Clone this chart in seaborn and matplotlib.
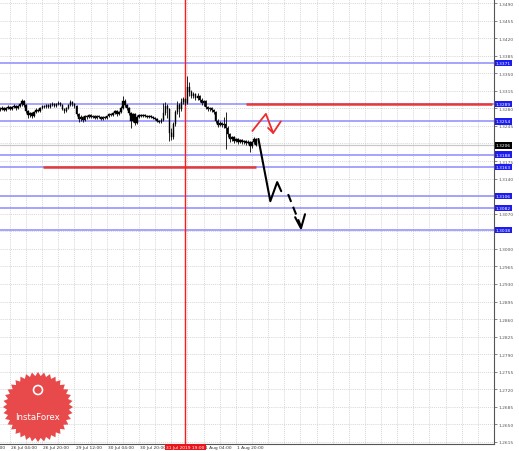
import numpy as np
import pandas as pd
import matplotlib
matplotlib.use("Agg")
import matplotlib.pyplot as plt
import seaborn as sns
from matplotlib.patches import Polygon, Circle

# --- DATA (hourly candles, index 0 = 25 Jul 23:00) ---
close = [1.3279, 1.3281, 1.3277, 1.3280, 1.3283, 1.3279, 1.3282, 1.3285, 1.3280, 1.3284,
         1.3288, 1.3294, 1.3286, 1.3275, 1.3266, 1.3270, 1.3264, 1.3272, 1.3277, 1.3275,
         1.3280, 1.3284, 1.3282, 1.3286, 1.3283, 1.3287, 1.3289, 1.3285, 1.3288, 1.3291,
         1.3286, 1.3279, 1.3274, 1.3280, 1.3287, 1.3292, 1.3288, 1.3284, 1.3268, 1.3258,
         1.3262, 1.3256, 1.3264, 1.3262, 1.3266, 1.3263, 1.3265, 1.3261, 1.3264, 1.3262,
         1.3259, 1.3263, 1.3260, 1.3264, 1.3268, 1.3266, 1.3270, 1.3274, 1.3268, 1.3272,
         1.3280, 1.3295, 1.3286, 1.3280, 1.3270, 1.3255, 1.3268, 1.3250, 1.3263, 1.3266,
         1.3264, 1.3267, 1.3265, 1.3263, 1.3265, 1.3262, 1.3260, 1.3258, 1.3255, 1.3252,
         1.3256, 1.3270, 1.3284, 1.3278, 1.3230, 1.3222, 1.3248, 1.3272, 1.3286, 1.3278,
         1.3292, 1.3298, 1.3290, 1.3322, 1.3312, 1.3305, 1.3308, 1.3300, 1.3304, 1.3297,
         1.3290, 1.3294, 1.3283, 1.3278, 1.3280, 1.3276, 1.3272, 1.3255, 1.3247, 1.3250,
         1.3246, 1.3249, 1.3240, 1.3228, 1.3218, 1.3222, 1.3215, 1.3218, 1.3213, 1.3216,
         1.3212, 1.3214, 1.3211, 1.3213, 1.3205, 1.3212, 1.3218, 1.3206]
high = [1.3282, 1.3284, 1.3283, 1.3282, 1.3286, 1.3285, 1.3284, 1.3288, 1.3287, 1.3286,
        1.3291, 1.3298, 1.3296, 1.3288, 1.3277, 1.3273, 1.3272, 1.3275, 1.3280, 1.3279,
        1.3282, 1.3286, 1.3287, 1.3288, 1.3289, 1.3290, 1.3292, 1.3291, 1.3290, 1.3294,
        1.3293, 1.3288, 1.3281, 1.3282, 1.3289, 1.3296, 1.3294, 1.3291, 1.3286, 1.3270,
        1.3266, 1.3264, 1.3267, 1.3266, 1.3268, 1.3268, 1.3267, 1.3267, 1.3266, 1.3266,
        1.3264, 1.3265, 1.3265, 1.3266, 1.3270, 1.3271, 1.3273, 1.3277, 1.3276, 1.3275,
        1.3284, 1.3305, 1.3299, 1.3289, 1.3283, 1.3272, 1.3271, 1.3270, 1.3266, 1.3269,
        1.3268, 1.3269, 1.3269, 1.3267, 1.3267, 1.3267, 1.3264, 1.3262, 1.3260, 1.3257,
        1.3260, 1.3290, 1.3292, 1.3288, 1.3280, 1.3240, 1.3252, 1.3276, 1.3294, 1.3290,
        1.3300, 1.3303, 1.3301, 1.3345, 1.3333, 1.3316, 1.3312, 1.3310, 1.3311, 1.3307,
        1.3300, 1.3297, 1.3296, 1.3285, 1.3283, 1.3282, 1.3278, 1.3274, 1.3258, 1.3254,
        1.3252, 1.3262, 1.3272, 1.3245, 1.3230, 1.3225, 1.3224, 1.3221, 1.3220, 1.3219,
        1.3218, 1.3217, 1.3216, 1.3216, 1.3215, 1.3215, 1.3222, 1.3220]
low = [1.3275, 1.3277, 1.3274, 1.3275, 1.3278, 1.3276, 1.3277, 1.3280, 1.3277, 1.3278,
       1.3282, 1.3285, 1.3283, 1.3271, 1.3261, 1.3263, 1.3260, 1.3262, 1.3270, 1.3272,
       1.3273, 1.3278, 1.3280, 1.3280, 1.3281, 1.3281, 1.3284, 1.3283, 1.3283, 1.3286,
       1.3284, 1.3276, 1.3271, 1.3272, 1.3278, 1.3285, 1.3285, 1.3281, 1.3264, 1.3252,
       1.3255, 1.3253, 1.3254, 1.3259, 1.3260, 1.3261, 1.3261, 1.3259, 1.3259, 1.3260,
       1.3257, 1.3257, 1.3258, 1.3258, 1.3262, 1.3264, 1.3264, 1.3268, 1.3265, 1.3266,
       1.3270, 1.3278, 1.3282, 1.3276, 1.3266, 1.3240, 1.3252, 1.3246, 1.3248, 1.3261,
       1.3262, 1.3262, 1.3263, 1.3261, 1.3261, 1.3260, 1.3258, 1.3256, 1.3253, 1.3250,
       1.3250, 1.3254, 1.3266, 1.3260, 1.3214, 1.3216, 1.3218, 1.3244, 1.3268, 1.3262,
       1.3274, 1.3288, 1.3286, 1.3288, 1.3305, 1.3300, 1.3300, 1.3296, 1.3297, 1.3292,
       1.3286, 1.3285, 1.3279, 1.3274, 1.3275, 1.3272, 1.3268, 1.3250, 1.3243, 1.3244,
       1.3242, 1.3240, 1.3200, 1.3222, 1.3213, 1.3214, 1.3211, 1.3212, 1.3209, 1.3210,
       1.3208, 1.3209, 1.3206, 1.3208, 1.3193, 1.3202, 1.3209, 1.3204]
first_open = 1.3277

# analyst levels
blue_levels = [1.3371, 1.3289, 1.3254, 1.3188, 1.3163, 1.3106, 1.3082, 1.3038]
current_price = 1.3206
red_upper = (1.3289, 122.2, 244.0)      # level, start index, end index
red_lower = (1.3163, 21.3, 127.2)

# forecast drawings (index, price)
red_path_x = [125.2, 131.9, 135.5]
red_path_y = [1.3235, 1.3269, 1.3231]
red_head_x = [133.0, 135.5, 139.3]
red_head_y = [1.3241, 1.3231, 1.3254]
black_path_x = [128.2, 134.1, 137.5, 139.5]
black_path_y = [1.3219, 1.3095, 1.3133, 1.3115]
black_dash_x = [142.9, 149.3]
black_dash_y = [1.3109, 1.3044]
black_head_x = [146.4, 149.3, 151.3]
black_head_y = [1.3063, 1.3041, 1.3069]

# axis
y_ticks = [round(1.2615 + 0.0035 * k, 4) for k in range(26)]
x_tick_pos = [-11, 5, 21, 37, 53, 69, 101, 117]
x_tick_labels = ["25 Jul 20:00", "26 Jul 04:00", "26 Jul 20:00", "29 Jul 12:00",
                 "30 Jul 04:00", "30 Jul 20:00", "1 Aug 04:00", "1 Aug 20:00"]
cursor_pos = 92
cursor_label = "31 Jul 2019 19:00"

# --- BUILD CANDLE TABLE ---
df = pd.DataFrame({"close": close, "high": high, "low": low})
df["open"] = [first_open] + close[:-1]
df["idx"] = np.arange(len(df))
df["bottom"] = df[["open", "close"]].min(axis=1)
df["body"] = (df["close"] - df["open"]).abs().clip(lower=0.00005)

# --- FIGURE ---
sns.set_style("white")
plt.rcParams["font.family"] = ["DejaVu Sans"]
fig = plt.figure(figsize=(5.19, 4.52), dpi=100)
ax = fig.add_axes([0, 7 / 452, 494 / 519, 445 / 452])
ax.set_xlim(0.07, 243.4)
ax.set_ylim(1.26110, 1.34980)

# grid
for k in range(-1, 32):
    ax.axvline(5 + 8 * k, color="#c9c9c9", lw=0.5, ls=(0, (1.5, 1.5)), zorder=0)
for t in y_ticks:
    ax.axhline(t, color="#c9c9c9", lw=0.5, ls=(0, (1.5, 1.5)), zorder=0)

# levels
for lv in blue_levels:
    ax.axhline(lv, color="#8c8cff", lw=1.1, zorder=1)
ax.axhline(current_price, color="#c8c8c8", lw=0.9, zorder=1)
ax.hlines(red_upper[0], red_upper[1], red_upper[2], color="#e8393a", lw=1.8, zorder=2)
ax.hlines(red_lower[0], red_lower[1], red_lower[2], color="#e8393a", lw=1.8, zorder=2)
ax.axvline(cursor_pos, color="#ff1a1a", lw=1.0, zorder=2.5)

# candles
ax.vlines(df["idx"], df["low"], df["high"], color="black", lw=0.6, zorder=3)
ax.bar(df["idx"], df["body"], bottom=df["bottom"], width=0.7, color="black",
       edgecolor="black", lw=0.3, zorder=4)

# forecast paths
sns.lineplot(x=red_path_x, y=red_path_y, ax=ax, color="#ee2b2b", lw=1.3, sort=False, zorder=5)
sns.lineplot(x=red_head_x, y=red_head_y, ax=ax, color="#ee2b2b", lw=1.3, sort=False, zorder=5)
sns.lineplot(x=black_path_x, y=black_path_y, ax=ax, color="black", lw=1.5, sort=False, zorder=5)
ax.plot(black_dash_x, black_dash_y, color="black", lw=1.5, ls=(0, (4, 2.5)), zorder=5)
sns.lineplot(x=black_head_x, y=black_head_y, ax=ax, color="black", lw=1.5, sort=False, zorder=5)

# axes styling
for s in ["left", "top"]:
    ax.spines[s].set_visible(False)
ax.spines["right"].set_color("#555555")
ax.spines["bottom"].set_color("#555555")
ax.spines["right"].set_linewidth(0.8)
ax.spines["bottom"].set_linewidth(0.8)
ax.yaxis.tick_right()
ax.set_yticks(y_ticks)
# labels hidden under the level boxes are left blank, as in the terminal
marked = blue_levels + [current_price]
ax.set_yticklabels([f"{t:.4f}" if min(abs(t - m) for m in marked) > 0.0007 else ""
                    for t in y_ticks], fontsize=3.2, color="#333333")
ax.tick_params(axis="y", length=2, width=0.5, pad=1.5, colors="#555555")
ax.set_xticks([5 + 8 * k for k in range(31)])
ax.set_xticklabels([])
ax.tick_params(axis="x", length=2, width=0.5, colors="#555555")

for pos, lab in zip(x_tick_pos, x_tick_labels):
    ax.text(pos + 0.6, -0.003, lab, transform=ax.get_xaxis_transform(), fontsize=3.2,
            color="#333333", ha="left", va="top", clip_on=False)
ax.text(cursor_pos, -0.0025, cursor_label, transform=ax.get_xaxis_transform(), fontsize=3.2,
        color="white", ha="center", va="top", clip_on=False,
        bbox=dict(boxstyle="square,pad=0.25", fc="#e8161a", ec="none"))

# price labels on axis
for lv in blue_levels:
    ax.text(1.004, lv, f"{lv:.4f}", transform=ax.get_yaxis_transform(), fontsize=3.2,
            color="white", ha="left", va="center", clip_on=False, zorder=10,
            bbox=dict(boxstyle="square,pad=0.25", fc="#1c1cf0", ec="none"))
ax.text(1.004, current_price, f"{current_price:.4f}", transform=ax.get_yaxis_transform(),
        fontsize=3.2, color="white", ha="left", va="center", clip_on=False, zorder=10,
        bbox=dict(boxstyle="square,pad=0.25", fc="black", ec="none"))

# InstaForex badge
cx, cy, r_out, r_in, n = 38, 408, 35, 31, 36
ang = np.linspace(0, 2 * np.pi, 2 * n, endpoint=False)
rad = np.where(np.arange(2 * n) % 2 == 0, r_out, r_in)
pts = np.column_stack([cx + rad * np.cos(ang), 452 - (cy + rad * np.sin(ang))])
fig.patches.append(Polygon(pts, closed=True, transform=None, fc="#e8494a", ec="none",
                           zorder=10, figure=fig))
fig.patches.append(Circle((cx, 452 - 391), 4.5, transform=None, fc="none", ec="white",
                          lw=1.2, zorder=11, figure=fig))
fig.text(cx / 519, 1 - 417 / 452, "InstaForex", color="white", fontsize=6.2,
         ha="center", va="center", zorder=12)

fig.savefig("out.png", dpi=100)
